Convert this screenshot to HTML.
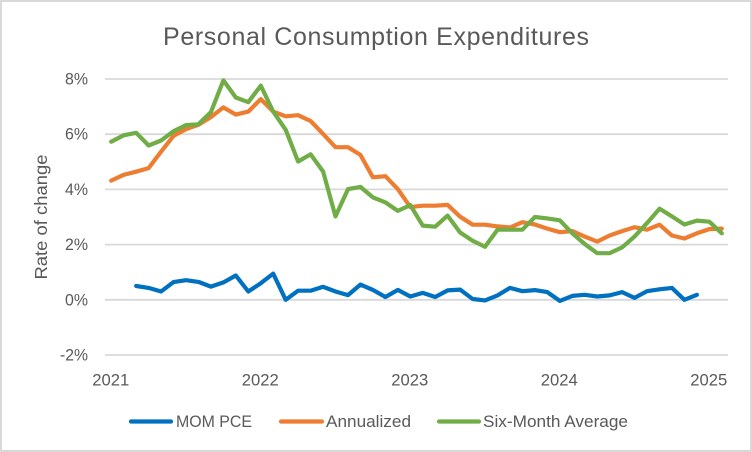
<!DOCTYPE html>
<html>
<head>
<meta charset="utf-8">
<style>
html,body{margin:0;padding:0;background:#fff;}
svg{display:block;font-family:"Liberation Sans",sans-serif;}
text{fill:#595959;}
</style>
</head>
<body>
<svg id="chart" xmlns="http://www.w3.org/2000/svg" width="752" height="452" viewBox="0 0 752 452">
<rect x="1" y="1" width="750" height="450" fill="#fff" stroke="#d9d9d9" stroke-width="2"/>
<text x="376" y="45" font-size="25" text-anchor="middle" textLength="426" lengthAdjust="spacing">Personal Consumption Expenditures</text>
<text transform="translate(47,217) rotate(-90)" font-size="17.5" text-anchor="middle" textLength="125" lengthAdjust="spacingAndGlyphs">Rate of change</text>
<g id="grid"></g>
<g id="ylabels"></g>
<g id="xlabels"></g>
<g id="series"></g>
<g>
<g>
<line x1="131" y1="421.5" x2="171" y2="421.5" stroke="#0070c0" stroke-width="4.2" stroke-linecap="round"/>
<text x="176" y="427" font-size="17" textLength="76" lengthAdjust="spacingAndGlyphs">MOM PCE</text>
</g>
<g>
<line x1="281" y1="421.5" x2="322" y2="421.5" stroke="#ed7d31" stroke-width="4.2" stroke-linecap="round"/>
<text x="326" y="427" font-size="17" textLength="85" lengthAdjust="spacingAndGlyphs">Annualized</text>
</g>
<g>
<line x1="439" y1="421.5" x2="479" y2="421.5" stroke="#70ad47" stroke-width="4.2" stroke-linecap="round"/>
<text x="483" y="427" font-size="17" textLength="145" lengthAdjust="spacingAndGlyphs">Six-Month Average</text>
</g>
</g>
</svg>
<script>
const yTicks = [8, 6, 4, 2, 0, -2];
const yearLabels = ["2021", "2022", "2023", "2024", "2025"];
const monthsPerYear = 12;
const categoryCount = 50;
const momPce = [null, null, 0.50, 0.43, 0.30, 0.64, 0.71, 0.65, 0.48, 0.63, 0.88, 0.30, 0.60, 0.95, 0.00, 0.33, 0.33, 0.47, 0.30, 0.17, 0.55, 0.36, 0.10, 0.36, 0.12, 0.25, 0.10, 0.34, 0.37, 0.03, -0.02, 0.16, 0.43, 0.31, 0.35, 0.28, -0.04, 0.14, 0.18, 0.12, 0.16, 0.28, 0.07, 0.31, 0.38, 0.43, 0.00, 0.18];
const annualized = [4.32, 4.53, 4.64, 4.77, 5.37, 5.94, 6.18, 6.34, 6.62, 6.97, 6.71, 6.82, 7.27, 6.82, 6.65, 6.69, 6.48, 6.01, 5.53, 5.53, 5.25, 4.44, 4.48, 4.01, 3.36, 3.41, 3.41, 3.44, 3.01, 2.72, 2.72, 2.66, 2.62, 2.81, 2.73, 2.58, 2.45, 2.49, 2.29, 2.11, 2.33, 2.49, 2.63, 2.54, 2.72, 2.33, 2.22, 2.41, 2.56, 2.58];
const sixMonthAverage = [5.73, 5.96, 6.05, 5.59, 5.77, 6.11, 6.33, 6.36, 6.80, 7.95, 7.33, 7.16, 7.76, 6.82, 6.16, 5.01, 5.27, 4.65, 3.02, 4.01, 4.09, 3.71, 3.53, 3.22, 3.43, 2.69, 2.65, 3.05, 2.44, 2.14, 1.92, 2.54, 2.54, 2.54, 3.00, 2.95, 2.88, 2.41, 2.02, 1.69, 1.69, 1.90, 2.29, 2.78, 3.30, 3.02, 2.73, 2.87, 2.83, 2.41];

const NS = "http://www.w3.org/2000/svg";
const plotLeft = 105, plotRight = 728;
const y8 = 79, yPerUnit = 27.6;
function xScale(i) {
  return plotLeft + (i + 0.5) * (plotRight - plotLeft) / categoryCount;
}
function yScale(v) {
  return y8 + (8 - v) * yPerUnit;
}
const grid = document.getElementById("grid");
const ylabels = document.getElementById("ylabels");
const xlabels = document.getElementById("xlabels");
const seriesG = document.getElementById("series");

yTicks.forEach(function (t) {
  const ln = document.createElementNS(NS, "line");
  ln.setAttribute("x1", plotLeft);
  ln.setAttribute("x2", plotRight);
  ln.setAttribute("y1", yScale(t));
  ln.setAttribute("y2", yScale(t));
  ln.setAttribute("stroke", "#d9d9d9");
  ln.setAttribute("stroke-width", "1.8");
  
  
  grid.appendChild(ln);
  const tx = document.createElementNS(NS, "text");
  tx.setAttribute("x", 88);
  tx.setAttribute("y", yScale(t) + 5.5);
  tx.setAttribute("font-size", "17");
  tx.setAttribute("text-anchor", "end");
  tx.setAttribute("textLength", t < 0 ? "28" : "23");
  tx.setAttribute("lengthAdjust", "spacingAndGlyphs");
  tx.textContent = t + "%";
  
  
  ylabels.appendChild(tx);
});

yearLabels.forEach(function (label, k) {
  const tx = document.createElementNS(NS, "text");
  tx.setAttribute("x", xScale(k * monthsPerYear) - 0.5);
  tx.setAttribute("y", 385.5);
  tx.setAttribute("font-size", "17");
  tx.setAttribute("text-anchor", "middle");
  tx.setAttribute("textLength", "37");
  tx.setAttribute("lengthAdjust", "spacingAndGlyphs");
  tx.textContent = label;
  
  
  xlabels.appendChild(tx);
});

function drawSeries(values, color, name) {
  const pts = [];
  values.forEach(function (v, i) {
    if (v !== null) {
      pts.push(xScale(i).toFixed(1) + "," + yScale(v).toFixed(1));
    }
  });
  const pl = document.createElementNS(NS, "polyline");
  pl.setAttribute("points", pts.join(" "));
  pl.setAttribute("fill", "none");
  pl.setAttribute("stroke", color);
  pl.setAttribute("stroke-width", "4.2");
  pl.setAttribute("stroke-linecap", "round");
  pl.setAttribute("stroke-linejoin", "round");
  
  
  seriesG.appendChild(pl);
}
drawSeries(momPce, "#0070c0", "mom-pce-line");
drawSeries(annualized, "#ed7d31", "annualized-line");
drawSeries(sixMonthAverage, "#70ad47", "six-month-average-line");
</script>
</body>
</html>
